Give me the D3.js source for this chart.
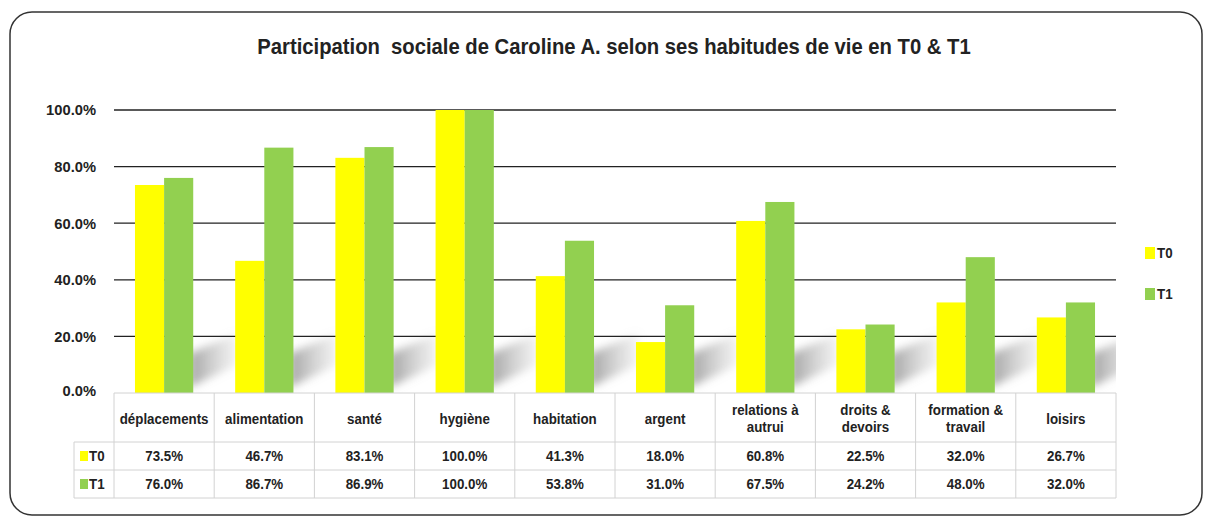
<!DOCTYPE html>
<html>
<head>
<meta charset="utf-8">
<script src="https://cdn.jsdelivr.net/npm/d3@7/dist/d3.min.js"></script>
<style>
  body { margin: 0; background: #fff; }
  text { font-family: "Liberation Sans", Arial, sans-serif; font-weight: bold; fill: #222; }
</style>
</head>
<body>
<svg id="chart"></svg>
<script>
var categories = [["déplacements"], ["alimentation"], ["santé"], ["hygiène"], ["habitation"],
                  ["argent"], ["relations à", "autrui"], ["droits &", "devoirs"], ["formation &", "travail"], ["loisirs"]];
var seriesNames = ["T0", "T1"];
var t0Values = [73.5, 46.7, 83.1, 100.0, 41.3, 18.0, 60.8, 22.5, 32.0, 26.7];
var t1Values = [76.0, 86.7, 86.9, 100.0, 53.8, 31.0, 67.5, 24.2, 48.0, 32.0];
var yTicks = [0, 20, 40, 60, 80, 100];
var colors = {T0: "#FFFF00", T1: "#92D050"};

var width = 1205, height = 519,
    plotLeft = 114, plotRight = 1116, plotTop = 110, plotBottom = 393,
    rowH = 28, headH = 49,
    squeeze = 0.86;   // the original uses a narrow font

var svg = d3.select("#chart").attr("width", width).attr("height", height);

var catKeys = categories.map(function(d){ return d.join(" "); });

var xScale = d3.scaleBand().domain(catKeys).range([plotLeft, plotRight]).padding(0),
    xSub = d3.scaleBand().domain(seriesNames).range([0, xScale.bandwidth()]).paddingInner(0).paddingOuter(0.72),
    yScale = d3.scaleLinear().domain([0, 100]).range([plotBottom, plotTop]);

function place(x, y, sx) {
  return "translate(" + x + "," + y + ") scale(" + (sx || squeeze) + ",1)";
}

// frame
svg.append("rect")
  .attr("x", 10).attr("y", 12)
  .attr("width", 1192).attr("height", 503)
  .attr("rx", 22).attr("ry", 22)
  .attr("fill", "#fff")
  .attr("stroke", "#333")
  .attr("stroke-width", 1.5);

svg.append("text")
  .attr("transform", place(614, 54, 0.9))
  .attr("text-anchor", "middle")
  .attr("xml:space", "preserve")
  .style("font-size", "22.5px")
  .text("Participation  sociale de Caroline A. selon ses habitudes de vie en T0 & T1");

// soft shadows cast to the right of each bar pair
var defs = svg.append("defs");
defs.append("filter").attr("id", "blur")
  .attr("x", "-50%").attr("y", "-50%").attr("width", "200%").attr("height", "200%")
  .append("feGaussianBlur").attr("stdDeviation", 4);
var grad = defs.append("linearGradient").attr("id", "fade")
  .attr("x1", "0").attr("y1", "0").attr("x2", "1").attr("y2", "0");
grad.append("stop").attr("offset", "0").attr("stop-color", "#7a7a7a").attr("stop-opacity", 0.7);
grad.append("stop").attr("offset", "1").attr("stop-color", "#b0b0b0").attr("stop-opacity", 0.15);
defs.append("clipPath").attr("id", "plotclip")
  .append("rect").attr("x", plotLeft).attr("y", plotTop)
  .attr("width", plotRight - plotLeft).attr("height", plotBottom - plotTop);

svg.append("g")
  .attr("clip-path", "url(#plotclip)")
  .selectAll("polygon")
  .data(catKeys)
  .enter().append("polygon")
    .attr("points", function(d){
      var gr = xScale(d) + xSub("T1") + xSub.bandwidth();
      return [[gr - 4, yScale(2)], [gr - 4, yScale(14)], [gr + 44, yScale(21)], [gr + 44, yScale(10)]].join(" ");
    })
    .attr("fill", "url(#fade)")
    .attr("filter", "url(#blur)");

// gridlines
svg.append("g")
  .selectAll("line")
  .data(yTicks.filter(function(d){ return d > 0; }))
  .enter().append("line")
    .attr("x1", plotLeft).attr("x2", plotRight)
    .attr("y1", function(d){ return yScale(d); })
    .attr("y2", function(d){ return yScale(d); })
    .attr("stroke", "#222")
    .attr("stroke-width", 1.3);

svg.append("g")
  .selectAll("text")
  .data(yTicks)
  .enter().append("text")
    .attr("transform", function(d){ return place(96, yScale(d) + (d === 0 ? -2 : 0), 0.95); })
    .attr("dy", "0.35em")
    .attr("text-anchor", "end")
    .style("font-size", "15.5px")
    .text(function(d){ return d.toFixed(1) + "%"; });

// bars
var groups = svg.append("g")
  .selectAll("g")
  .data(catKeys)
  .enter().append("g")
    .attr("transform", function(d){ return "translate(" + xScale(d) + ",0)"; });

groups.selectAll("rect")
  .data(function(d, i){ return [{s: "T0", v: t0Values[i]}, {s: "T1", v: t1Values[i]}]; })
  .enter().append("rect")
    .attr("x", function(d){ return xSub(d.s); })
    .attr("y", function(d){ return yScale(d.v); })
    .attr("width", xSub.bandwidth())
    .attr("height", function(d){ return plotBottom - yScale(d.v); })
    .attr("fill", function(d){ return colors[d.s]; });

// data table
var table = svg.append("g").attr("stroke", "#d2d2d2").attr("stroke-width", 1);
var tBottom = plotBottom + headH + 2 * rowH;
table.append("line").attr("x1", plotLeft).attr("x2", plotRight).attr("y1", plotBottom).attr("y2", plotBottom);
[plotBottom + headH, plotBottom + headH + rowH, tBottom].forEach(function(y){
  table.append("line").attr("x1", 74).attr("x2", plotRight).attr("y1", y).attr("y2", y);
});
table.append("line").attr("x1", 74).attr("x2", 74).attr("y1", plotBottom + headH).attr("y2", tBottom);
table.selectAll(".vline")
  .data(catKeys.map(function(d){ return xScale(d); }).concat([plotRight]))
  .enter().append("line")
    .attr("class", "vline")
    .attr("x1", function(d){ return d; }).attr("x2", function(d){ return d; })
    .attr("y1", plotBottom).attr("y2", tBottom);

var headers = svg.append("g")
  .selectAll("text")
  .data(categories)
  .enter().append("text")
    .attr("text-anchor", "middle")
    .attr("transform", function(d){
      var cx = xScale(d.join(" ")) + xScale.bandwidth() / 2;
      return place(cx, d.length === 1 ? plotBottom + headH / 2 + 6 : plotBottom + headH / 2 - 3);
    })
    .style("font-size", "15.5px");

headers.selectAll("tspan")
  .data(function(d){ return d; })
  .enter().append("tspan")
    .attr("x", 0)
    .attr("dy", function(d, i){ return i === 0 ? 0 : 18; })
    .text(function(d){ return d; });

[t0Values, t1Values].forEach(function(vals, r){
  var yRow = plotBottom + headH + r * rowH + rowH / 2;
  svg.append("g")
    .selectAll("text")
    .data(vals)
    .enter().append("text")
      .attr("text-anchor", "middle")
      .attr("transform", function(d, i){ return place(xScale(catKeys[i]) + xScale.bandwidth() / 2, yRow); })
      .attr("dy", "0.35em")
      .style("font-size", "15.5px")
      .text(function(d){ return d.toFixed(1) + "%"; });

  svg.append("rect")
    .attr("x", 80).attr("y", yRow - 5)
    .attr("width", 8).attr("height", 10)
    .attr("fill", colors[seriesNames[r]]);
  svg.append("text")
    .attr("transform", place(89, yRow))
    .attr("dy", "0.35em")
    .style("font-size", "15.5px")
    .text(seriesNames[r]);
});

// legend
var legend = svg.append("g")
  .selectAll("g")
  .data(seriesNames)
  .enter().append("g")
    .attr("transform", function(d, i){ return "translate(1145," + (253 + i * 41) + ")"; });

legend.append("rect")
  .attr("x", 0).attr("y", -6)
  .attr("width", 10).attr("height", 12)
  .attr("fill", function(d){ return colors[d]; });

legend.append("text")
  .attr("transform", place(12, 0))
  .attr("dy", "0.35em")
  .style("font-size", "15.5px")
  .text(function(d){ return d; });
</script>
</body>
</html>
